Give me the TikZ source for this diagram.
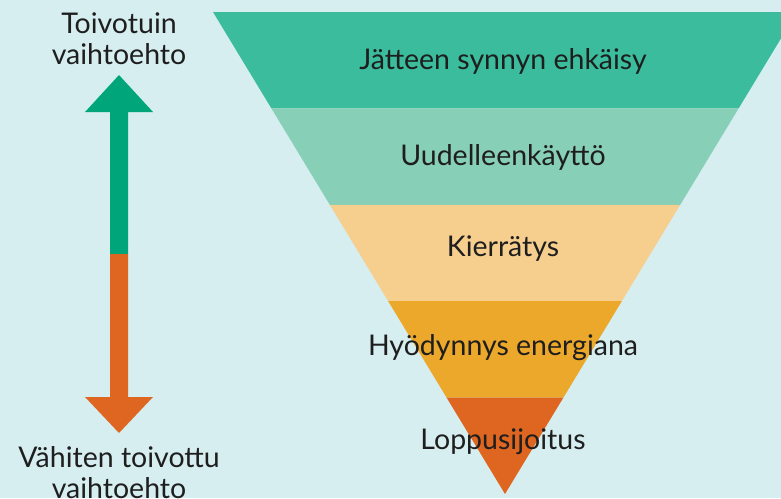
\documentclass[tikz,border=0pt]{standalone}
\usepackage{fontspec}
\setmainfont{Lato}
\usetikzlibrary{calc}
\usetikzlibrary{positioning}
\definecolor{bgblue}{HTML}{D6EEF0}
\definecolor{bandA}{HTML}{3BBC9C}
\definecolor{bandB}{HTML}{87CFB7}
\definecolor{bandC}{HTML}{F6CE8E}
\definecolor{bandD}{HTML}{EBA82A}
\definecolor{bandE}{HTML}{DE6620}
\definecolor{arrowup}{HTML}{00A67A}
\definecolor{arrowdown}{HTML}{DF6620}
\definecolor{ink}{HTML}{1E1E1E}
\tikzstyle{level} = [text=ink, font=\fontsize{28.5}{31}\selectfont, inner sep=0pt]
\tikzstyle{side} = [level, align=center, font=\fontsize{28.5}{31}\selectfont]
\newcommand{\band}[2]{ %
  % Fill band #1 (0 = top) of the pyramid with colour #2.
  \pgfmathsetmacro{\lo}{#1/5}
  \pgfmathsetmacro{\hi}{(#1+1)/5}
  \fill[#2] ($(tl)!\lo!(ap)$) -- ($(tr)!\lo!(ap)$)
    -- ($(tr)!\hi!(ap)$) -- ($(tl)!\hi!(ap)$) -- cycle;
}

\begin{document}
\begin{tikzpicture}[x=1pt, y=-1pt]
  \useasboundingbox[fill=bgblue] (0,0) rectangle (781,498);

  % pyramid
  \coordinate (tl) at (213,12);
  \coordinate (tr) at (797,12);
  \coordinate (ap) at (505,494);
  \band{0}{bandA}
  \band{1}{bandB}
  \band{2}{bandC}
  \band{3}{bandD}
  \band{4}{bandE}

  \node[level] (prevent) at (503,61) {Jätteen synnyn ehkäisy};
  \node[level] (reuse) at (503,157) {Uudelleenkäyttö};
  \node[level] (recycle) at (503,249) {Kierrätys};
  \node[level] (energy) at (503,348) {Hyödynnys energiana};
  \node[level] (landfill) at (503,442) {Loppusijoitus};

  % arrow
  \fill[arrowup] (110,254) -- (110,112) -- (85,112) -- (119,75)
    -- (153,112) -- (128,112) -- (128,254) -- cycle;
  \fill[arrowdown] (110,254) -- (110,397) -- (85,397) -- (119,433)
    -- (153,397) -- (128,397) -- (128,254) -- cycle;

  \node[side] (best) at (119,39) {Toivotuin\\vaihtoehto};
  \node[side] (worst) at (119,473) {Vähiten toivottu\\vaihtoehto};
\end{tikzpicture}
\end{document}
